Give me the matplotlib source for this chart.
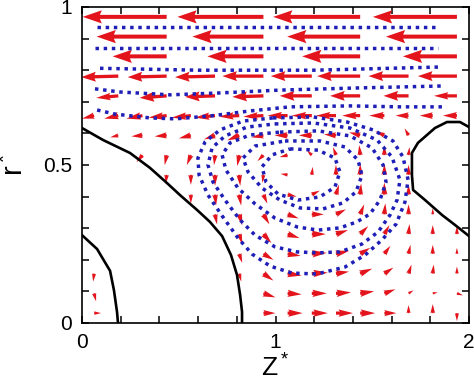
import numpy as np
import matplotlib
matplotlib.use('Agg')
import matplotlib.pyplot as plt

plt.rcParams['font.family'] = ['Liberation Sans', 'DejaVu Sans']
plt.rcParams['mathtext.fontset'] = 'custom'
plt.rcParams['mathtext.rm'] = 'Liberation Sans'
plt.rcParams['mathtext.it'] = 'Liberation Sans'

n = np.nan

# grid of vector positions (cell centres)
z_grid = [0.0625, 0.1875, 0.3125, 0.4375, 0.5625, 0.6875, 0.8125, 0.9375,
          1.0625, 1.1875, 1.3125, 1.4375, 1.5625, 1.6875, 1.8125, 1.9375]
r_grid = [0.03125, 0.09375, 0.15625, 0.21875, 0.28125, 0.34375, 0.40625, 0.46875,
          0.53125, 0.59375, 0.65625, 0.71875, 0.78125, 0.84375, 0.90625, 0.96875]

# velocity components (axial U, radial V), one list per row from r=0 upward
U_rows = [
    [7, n, n, n, n, n, n, 12, 15, 16, 17, 15, 12, 0, 0, 0],
    [2, n, n, n, n, n, n, 12, 14, 15, 15, 14, 11, 5, 5, 6],
    [-1, n, n, n, n, n, 2, 10, 14, 16, 13, 12, 9, 3, 1, 0],
    [n, n, n, n, n, n, 3, 10, 13, 15, 13, 10, 6, 2, 0, 0],
    [n, n, n, n, n, n, 3, 8, 12, 14, 12, 8, 5, 1, 0, 0],
    [n, n, n, n, n, 2, 3, 6, 11, 12, 10, 4, 1, 0, 0, n],
    [n, n, n, n, 0, 1, 2, 4, 9, 8, 3, 1, 0, 0, n, n],
    [n, n, n, -1, 0, 0, 1, -1, -7, 1, 0, 0, 0, 0, n, n],
    [n, n, -6, -2, -4, -1, -2, -6, -8, -5, -3, -1, 0, 1, n, n],
    [n, -8, -11, -12, -12, -11, -12, -12, -13, -13, -12, -11, -9, -4, n, n],
    [-12, -14, -16, -18, -19, -20, -20, -20, -20, -20, -20, -18, -15, -13, -13, -14],
    [n, -22, n, -27, n, -30, n, -31, n, -32, n, -30, n, -25, n, -23],
    [n, -37, n, -39, n, -40, n, -41, n, -41, n, -43, n, -40, n, -39],
    [n, n, n, -54, n, n, n, -56, n, n, n, -58, n, n, n, -54],
    [n, n, n, -70, n, n, n, -71, n, n, n, -73, n, n, n, -71],
    [n, n, n, -84, n, n, n, -86, n, n, n, -87, n, n, n, -84],
]
V_rows = [
    [0, n, n, n, n, n, n, 0, 0, 0, 0, 0, 0, 8, 9, -8],
    [-8, n, n, n, n, n, n, -4, -1, 0, 1, 2, 4, 3, 1, -2],
    [-8, n, n, n, n, n, -8, -7, -2, 1, 2, 5, 6, 9, 9, 7],
    [n, n, n, n, n, n, -9, -6, -2, 1, 3, 6, 8, 9, 9, 6],
    [n, n, n, n, n, n, -10, -9, -4, 0, 4, 8, 9, 10, 9, 8],
    [n, n, n, n, n, -10, -11, -10, -4, 0, 5, 10, 11, 10, 6, n],
    [n, n, n, n, -9, -11, -11, -9, -2, 4, 10, 11, 12, 10, n, n],
    [n, n, n, -9, -10, -11, -11, -8, 1, 8, 10, 11, 11, 10, n, n],
    [n, n, -7, -10, -10, -10, -11, -6, -2, 5, 8, 10, 10, 8, n, n],
    [n, -2, -1, -1, -3, -4, -5, -2, 0, 0, 1, 3, 4, 7, n, n],
    [-3, -3, -3, -2, -2, -2, -1, -1, 0, 0, 0, 0, 0, 0, 0, 0],
    [n, -2, n, -2, n, -1, n, -1, n, 0, n, 0, n, 0, n, 0],
    [n, -1, n, -1, n, -1, n, 0, n, 0, n, 0, n, 0, n, 0],
    [n, n, n, 0, n, n, n, 0, n, n, n, 0, n, n, n, 0],
    [n, n, n, 0, n, n, n, 0, n, n, n, 0, n, n, n, 0],
    [n, n, n, 0, n, n, n, 0, n, n, n, 0, n, n, n, 0],
]

# black solid curves
left_big_z = [0, 0.109, 0.248, 0.351, 0.439, 0.506, 0.594, 0.661, 0.724, 0.770, 0.801, 0.817, 0.827, 0.827]
left_big_r = [0.617, 0.579, 0.538, 0.491, 0.443, 0.405, 0.358, 0.320, 0.275, 0.215, 0.152, 0.089, 0.035, 0.0]
left_small_z = [0, 0.078, 0.145, 0.165, 0.181, 0.186]
left_small_r = [0.278, 0.234, 0.165, 0.104, 0.035, 0.0]
right_z = [2.0, 1.953, 1.886, 1.824, 1.736, 1.705, 1.705, 1.711, 1.773, 1.860, 1.928, 2.0]
right_r = [0.620, 0.636, 0.636, 0.617, 0.570, 0.538, 0.468, 0.421, 0.389, 0.342, 0.310, 0.275]

# blue dotted streamlines: open ones near the top
open_z = [
    [0.078, 1.84],
    [0.067, 1.84],
    [0.093, 0.60, 1.20, 1.85],
    [0.067, 0.196, 0.455, 0.713, 1.023, 1.437, 1.860],
    [0.078, 0.171, 0.351, 0.481, 0.661, 0.868, 1.075, 1.385, 1.643, 1.860],
]
open_r = [
    [0.937, 0.937],
    [0.870, 0.870],
    [0.806, 0.800, 0.800, 0.810],
    [0.741, 0.731, 0.722, 0.728, 0.737, 0.744, 0.750],
    [0.674, 0.661, 0.649, 0.646, 0.655, 0.671, 0.684, 0.687, 0.684, 0.684],
]
# closed streamlines of the vortex
loop_z = [
    [0.987, 1.194, 1.370, 1.504, 1.607, 1.659, 1.685, 1.669, 1.623, 1.550, 1.463, 1.359,
     1.214, 1.085, 0.972, 0.879, 0.806, 0.724, 0.651, 0.605, 0.599, 0.636, 0.713, 0.832],
    [0.997, 1.194, 1.385, 1.525, 1.602, 1.643, 1.628, 1.592, 1.530, 1.447, 1.333, 1.220,
     1.111, 0.997, 0.894, 0.817, 0.739, 0.677, 0.651, 0.672, 0.739, 0.853],
    [1.023, 1.220, 1.385, 1.499, 1.556, 1.571, 1.540, 1.488, 1.421, 1.333, 1.220, 1.111,
     0.997, 0.894, 0.806, 0.744, 0.724, 0.765, 0.868],
    [1.049, 1.230, 1.359, 1.426, 1.447, 1.416, 1.349, 1.245, 1.127, 1.023, 0.930, 0.858,
     0.832, 0.894],
    [1.075, 1.220, 1.307, 1.333, 1.307, 1.230, 1.116, 1.013, 0.951, 0.930, 0.982],
]
loop_r = [
    [0.649, 0.652, 0.636, 0.611, 0.576, 0.525, 0.453, 0.383, 0.313, 0.263, 0.215, 0.177,
     0.155, 0.158, 0.180, 0.218, 0.269, 0.339, 0.405, 0.468, 0.522, 0.573, 0.611, 0.639],
    [0.630, 0.633, 0.617, 0.579, 0.525, 0.453, 0.389, 0.342, 0.288, 0.250, 0.225, 0.222,
     0.225, 0.241, 0.278, 0.326, 0.389, 0.446, 0.500, 0.554, 0.592, 0.620],
    [0.604, 0.608, 0.592, 0.554, 0.500, 0.446, 0.389, 0.345, 0.320, 0.301, 0.294, 0.304,
     0.332, 0.377, 0.427, 0.484, 0.532, 0.570, 0.595],
    [0.576, 0.576, 0.557, 0.516, 0.468, 0.415, 0.380, 0.361, 0.364, 0.389, 0.427, 0.478,
     0.522, 0.560],
    [0.551, 0.547, 0.522, 0.478, 0.430, 0.399, 0.389, 0.408, 0.446, 0.494, 0.532],
]

RED = '#e3141c'
BLUE = '#1f1fb8'

fig = plt.figure(figsize=(4.74, 3.82), dpi=100)
ax = fig.add_axes([0.173, 0.1545, 0.8165, 0.8272])

ZZ, RR = np.meshgrid(z_grid, r_grid)
U = np.array(U_rows, dtype=float)
V = np.array(V_rows, dtype=float)
mag = np.hypot(U, V)
ok = ~np.isnan(U)

tiers = [
    (mag >= 50, dict(width=4.0, headwidth=3.3, headlength=4.8, headaxislength=4.3)),
    ((mag >= 25) & (mag < 50), dict(width=3.3, headwidth=3.0, headlength=4.4, headaxislength=4.0)),
    (mag < 25, dict(width=3.2, headwidth=2.3, headlength=4.5, headaxislength=4.1)),
]
for sel, kw in tiers:
    m = ok & sel
    ax.quiver(ZZ[m], RR[m], U[m], V[m], color=RED, units='dots', angles='uv',
              scale_units='dots', scale=1, pivot='tail', minshaft=1, minlength=0.1,
              zorder=2, **kw)

for zs, rs in zip(open_z, open_r):
    ax.plot(zs, rs, color=BLUE, lw=2.5, linestyle=(0, (1.0, 1.35)), zorder=3)
for zs, rs in zip(loop_z, loop_r):
    ax.plot(zs + zs[:1], rs + rs[:1], color=BLUE, lw=2.5, linestyle=(0, (1.0, 1.35)), zorder=3)

for zs, rs in [(left_big_z, left_big_r), (left_small_z, left_small_r), (right_z, right_r)]:
    ax.plot(zs, rs, color='black', lw=1.9, zorder=4, solid_joinstyle='round')

ax.set_xlim(0, 2)
ax.set_ylim(0, 1)
ax.set_xticks(np.arange(0, 2.01, 0.2))
ax.set_xticklabels(['0', '', '', '', '', '1', '', '', '', '', '2'])
ax.set_yticks(np.arange(0, 1.01, 0.1))
ax.set_yticklabels(['0', '', '', '', '', '0.5', '', '', '', '', '1'])
ax.tick_params(direction='in', top=True, right=True, length=5, width=1.1,
               labelsize=15, pad=7)
for s in ax.spines.values():
    s.set_linewidth(1.2)

ax.set_xlabel('Z$^*$', fontsize=19, labelpad=0)
ax.xaxis.set_label_coords(0.5, -0.098)
ax.set_ylabel('r$^*$', fontsize=21, labelpad=10)

fig.savefig('out.png', dpi=100)
